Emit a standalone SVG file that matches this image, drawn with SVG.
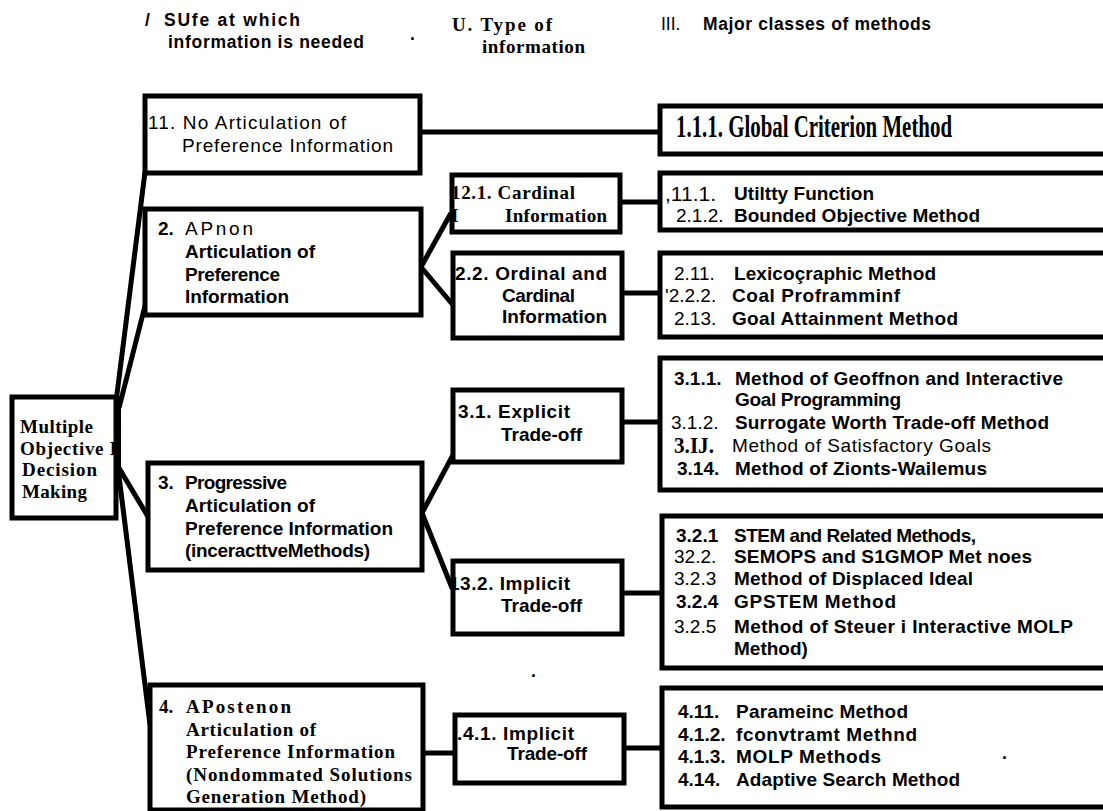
<svg xmlns="http://www.w3.org/2000/svg" width="1103" height="811" viewBox="0 0 1103 811">
<style>
.box{fill:#fff;stroke:#000;stroke-width:5}
.conn{stroke:#000;stroke-width:5;fill:none;stroke-linecap:butt}
text{fill:#000;font-size:19px}
.s{font-family:"Liberation Sans",Arial,sans-serif}
.sb{font-family:"Liberation Sans",Arial,sans-serif;font-weight:bold}
.rb{font-family:"Liberation Serif","Times New Roman",serif;font-weight:bold}
.h{font-size:17.5px}
</style>
<rect width="1103" height="811" fill="#fff"/>

<g id="headers">
<text class="sb h" x="145" y="26">/</text>
<text class="sb h" x="164" y="26" textLength="136" lengthAdjust="spacing">SUfe at which</text>
<text class="sb h" x="168" y="48" textLength="196" lengthAdjust="spacing">information is needed</text>
<text class="sb h" x="410" y="40">.</text>
<text class="rb" x="452" y="31" textLength="100" lengthAdjust="spacing">U. Type of</text>
<text class="rb" x="482" y="53" textLength="103" lengthAdjust="spacing">information</text>
<text class="s h" x="661" y="30">III.</text>
<text class="sb h" x="703" y="30" textLength="228" lengthAdjust="spacing">Major classes of methods</text>
</g>

<g id="connectors">
<rect x="112" y="396" width="9" height="76" fill="#000"/>
<line class="conn" x1="116" y1="402" x2="145" y2="172"/>
<line class="conn" x1="119" y1="408" x2="147" y2="298"/>
<line class="conn" x1="116" y1="463" x2="150" y2="520"/>
<line class="conn" x1="118" y1="468" x2="150" y2="725"/>
<line class="conn" x1="420" y1="132" x2="660" y2="132"/>
<line class="conn" x1="421" y1="267" x2="451" y2="213"/>
<line class="conn" x1="421" y1="267" x2="453" y2="305"/>
<line class="conn" x1="422" y1="513" x2="453" y2="455"/>
<line class="conn" x1="422" y1="513" x2="452" y2="588"/>
<line class="conn" x1="620" y1="202" x2="660" y2="202"/>
<line class="conn" x1="622" y1="293" x2="660" y2="293"/>
<line class="conn" x1="622" y1="422" x2="660" y2="422"/>
<line class="conn" x1="622" y1="593" x2="662" y2="593"/>
<line class="conn" x1="423" y1="753" x2="455" y2="753"/>
<line class="conn" x1="624" y1="748" x2="662" y2="748"/>
</g>

<g id="root">
<rect class="box" x="12" y="397" width="104" height="121"/>
<text class="rb" x="20" y="433" textLength="73" lengthAdjust="spacing">Multiple</text>
<text class="rb" x="20" y="455" textLength="97" lengthAdjust="spacing">Objective I</text>
<text class="rb" x="22" y="476" textLength="75" lengthAdjust="spacing">Decision</text>
<text class="rb" x="22" y="498" textLength="65" lengthAdjust="spacing">Making</text>
</g>

<g id="n1">
<rect class="box" x="145" y="96" width="275" height="77"/>
<text class="s" x="148" y="129" textLength="198" lengthAdjust="spacing">11.  No Articulation of</text>
<text class="s" x="182" y="152" textLength="211" lengthAdjust="spacing">Preference Information</text>
</g>

<g id="n2">
<rect class="box" x="145" y="209" width="276" height="106"/>
<text class="sb" x="158" y="235">2.</text>
<text class="s" x="185" y="235" textLength="68" lengthAdjust="spacing">APnon</text>
<text class="sb" x="185" y="258" textLength="130" lengthAdjust="spacing">Articulation of</text>
<text class="sb" x="185" y="281" textLength="95" lengthAdjust="spacing">Preference</text>
<text class="sb" x="185" y="303" textLength="104" lengthAdjust="spacing">Information</text>
</g>

<g id="n3">
<rect class="box" x="148" y="463" width="274" height="107"/>
<text class="sb" x="158" y="489">3.</text>
<text class="sb" x="185" y="489" textLength="102" lengthAdjust="spacing">Progressive</text>
<text class="sb" x="185" y="512" textLength="130" lengthAdjust="spacing">Articulation of</text>
<text class="sb" x="185" y="535" textLength="208" lengthAdjust="spacing">Preference Information</text>
<text class="sb" x="185" y="557" textLength="185" lengthAdjust="spacing">(inceracttveMethods)</text>
</g>

<g id="n4">
<rect class="box" x="150" y="685" width="273" height="125"/>
<text class="rb" x="159" y="713">4.</text>
<text class="rb" x="186" y="713" textLength="105" lengthAdjust="spacing">APostenon</text>
<text class="rb" x="186" y="736" textLength="130" lengthAdjust="spacing">Articulation of</text>
<text class="rb" x="186" y="758" textLength="209" lengthAdjust="spacing">Preference Information</text>
<text class="rb" x="186" y="781" textLength="226" lengthAdjust="spacing">(Nondommated Solutions</text>
<text class="rb" x="186" y="803" textLength="180" lengthAdjust="spacing">Generation Method)</text>
</g>

<g id="n121">
<rect class="box" x="452" y="175" width="168" height="57"/>
<text class="rb" x="451" y="199" textLength="124" lengthAdjust="spacing">12.1. Cardinal</text>
<text class="rb" x="451" y="222">I</text>
<text class="rb" x="505" y="222" textLength="102" lengthAdjust="spacing">Information</text>
</g>

<g id="n22">
<rect class="box" x="453" y="253" width="169" height="85"/>
<text class="sb" x="455" y="280" textLength="152" lengthAdjust="spacing">2.2. Ordinal and</text>
<text class="sb" x="502" y="302" textLength="73" lengthAdjust="spacing">Cardinal</text>
<text class="sb" x="502" y="323" textLength="105" lengthAdjust="spacing">Information</text>
</g>

<g id="n31">
<rect class="box" x="453" y="390" width="169" height="72"/>
<text class="sb" x="458" y="418" textLength="112" lengthAdjust="spacing">3.1. Explicit</text>
<text class="sb" x="501" y="441" textLength="81" lengthAdjust="spacing">Trade-off</text>
</g>

<g id="n32">
<rect class="box" x="453" y="561" width="169" height="73"/>
<text class="sb" x="449" y="590" textLength="121" lengthAdjust="spacing">13.2. Implicit</text>
<text class="sb" x="501" y="612" textLength="81" lengthAdjust="spacing">Trade-off</text>
</g>

<g id="n41">
<rect class="box" x="455" y="715" width="169" height="68"/>
<text class="sb" x="457" y="740" textLength="117" lengthAdjust="spacing">.4.1. Implicit</text>
<text class="sb" x="507" y="760" textLength="80" lengthAdjust="spacing">Trade-off</text>
</g>

<g id="m11">
<rect class="box" x="660" y="106" width="460" height="48"/>
<text class="rb" x="676" y="137" style="font-size:31px" textLength="276" lengthAdjust="spacingAndGlyphs">1.1.1. Global Criterion Method</text>
</g>

<g id="m21">
<rect class="box" x="660" y="173" width="460" height="57"/>
<text class="s" x="665" y="201" style="font-size:21px">,11.1.</text>
<text class="sb" x="734" y="200" textLength="140" lengthAdjust="spacing">Utiltty Function</text>
<text class="s" x="676" y="222">2.1.2.</text>
<text class="sb" x="734" y="222" textLength="246" lengthAdjust="spacing">Bounded Objective Method</text>
</g>

<g id="m22">
<rect class="box" x="660" y="253" width="460" height="84"/>
<text class="s" x="674" y="280">2.11.</text>
<text class="sb" x="734" y="280" textLength="202" lengthAdjust="spacing">Lexicoçraphic Method</text>
<text class="s" x="665" y="302">'2.2.2.</text>
<text class="sb" x="732" y="302" textLength="168" lengthAdjust="spacing">Coal Proframminf</text>
<text class="s" x="674" y="325">2.13.</text>
<text class="sb" x="732" y="325" textLength="226" lengthAdjust="spacing">Goal Attainment Method</text>
</g>

<g id="m31">
<rect class="box" x="660" y="358" width="460" height="132"/>
<text class="sb" x="674" y="385">3.1.1.</text>
<text class="sb" x="735" y="385" textLength="328" lengthAdjust="spacing">Method of Geoffnon and Interactive</text>
<text class="sb" x="735" y="406" textLength="166" lengthAdjust="spacing">Goal Programming</text>
<text class="s" x="671" y="429">3.1.2.</text>
<text class="sb" x="735" y="429" textLength="314" lengthAdjust="spacing">Surrogate Worth Trade-off Method</text>
<text class="rb" x="674" y="453" style="font-size:24px" textLength="40" lengthAdjust="spacingAndGlyphs">3.IJ.</text>
<text class="s" x="732" y="452" textLength="259" lengthAdjust="spacing">Method of Satisfactory Goals</text>
<text class="sb" x="677" y="475">3.14.</text>
<text class="sb" x="735" y="475" textLength="252" lengthAdjust="spacing">Method of Zionts-Wailemus</text>
</g>

<g id="m32">
<rect class="box" x="662" y="516" width="460" height="152"/>
<text class="sb" x="676" y="542">3.2.1</text>
<text class="sb" x="734" y="542" textLength="242" lengthAdjust="spacing">STEM and Related Methods,</text>
<text class="s" x="674" y="563">32.2.</text>
<text class="sb" x="734" y="563" textLength="298" lengthAdjust="spacing">SEMOPS and S1GMOP Met noes</text>
<text class="s" x="674" y="585">3.2.3</text>
<text class="sb" x="734" y="585" textLength="239" lengthAdjust="spacing">Method of Displaced Ideal</text>
<text class="sb" x="676" y="608">3.2.4</text>
<text class="sb" x="734" y="608" textLength="162" lengthAdjust="spacing">GPSTEM Method</text>
<text class="s" x="674" y="633">3.2.5</text>
<text class="sb" x="734" y="633" textLength="339" lengthAdjust="spacing">Method of Steuer i Interactive MOLP</text>
<text class="sb" x="734" y="655">Method)</text>
</g>

<g id="m41">
<rect class="box" x="662" y="688" width="460" height="119"/>
<text class="sb" x="678" y="718">4.11.</text>
<text class="sb" x="736" y="718" textLength="172" lengthAdjust="spacing">Parameinc Method</text>
<text class="sb" x="678" y="741">4.1.2.</text>
<text class="sb" x="736" y="741" textLength="181" lengthAdjust="spacing">fconvtramt Methnd</text>
<text class="sb" x="678" y="763">4.1.3.</text>
<text class="sb" x="736" y="763" textLength="145" lengthAdjust="spacing">MOLP Methods</text>
<text class="sb" x="678" y="786">4.14.</text>
<text class="sb" x="736" y="786" textLength="224" lengthAdjust="spacing">Adaptive Search Method</text>
</g>

<g id="marks">
<text class="sb h" x="531" y="677">.</text>
<text class="sb h" x="1002" y="759">.</text>
</g>
</svg>
